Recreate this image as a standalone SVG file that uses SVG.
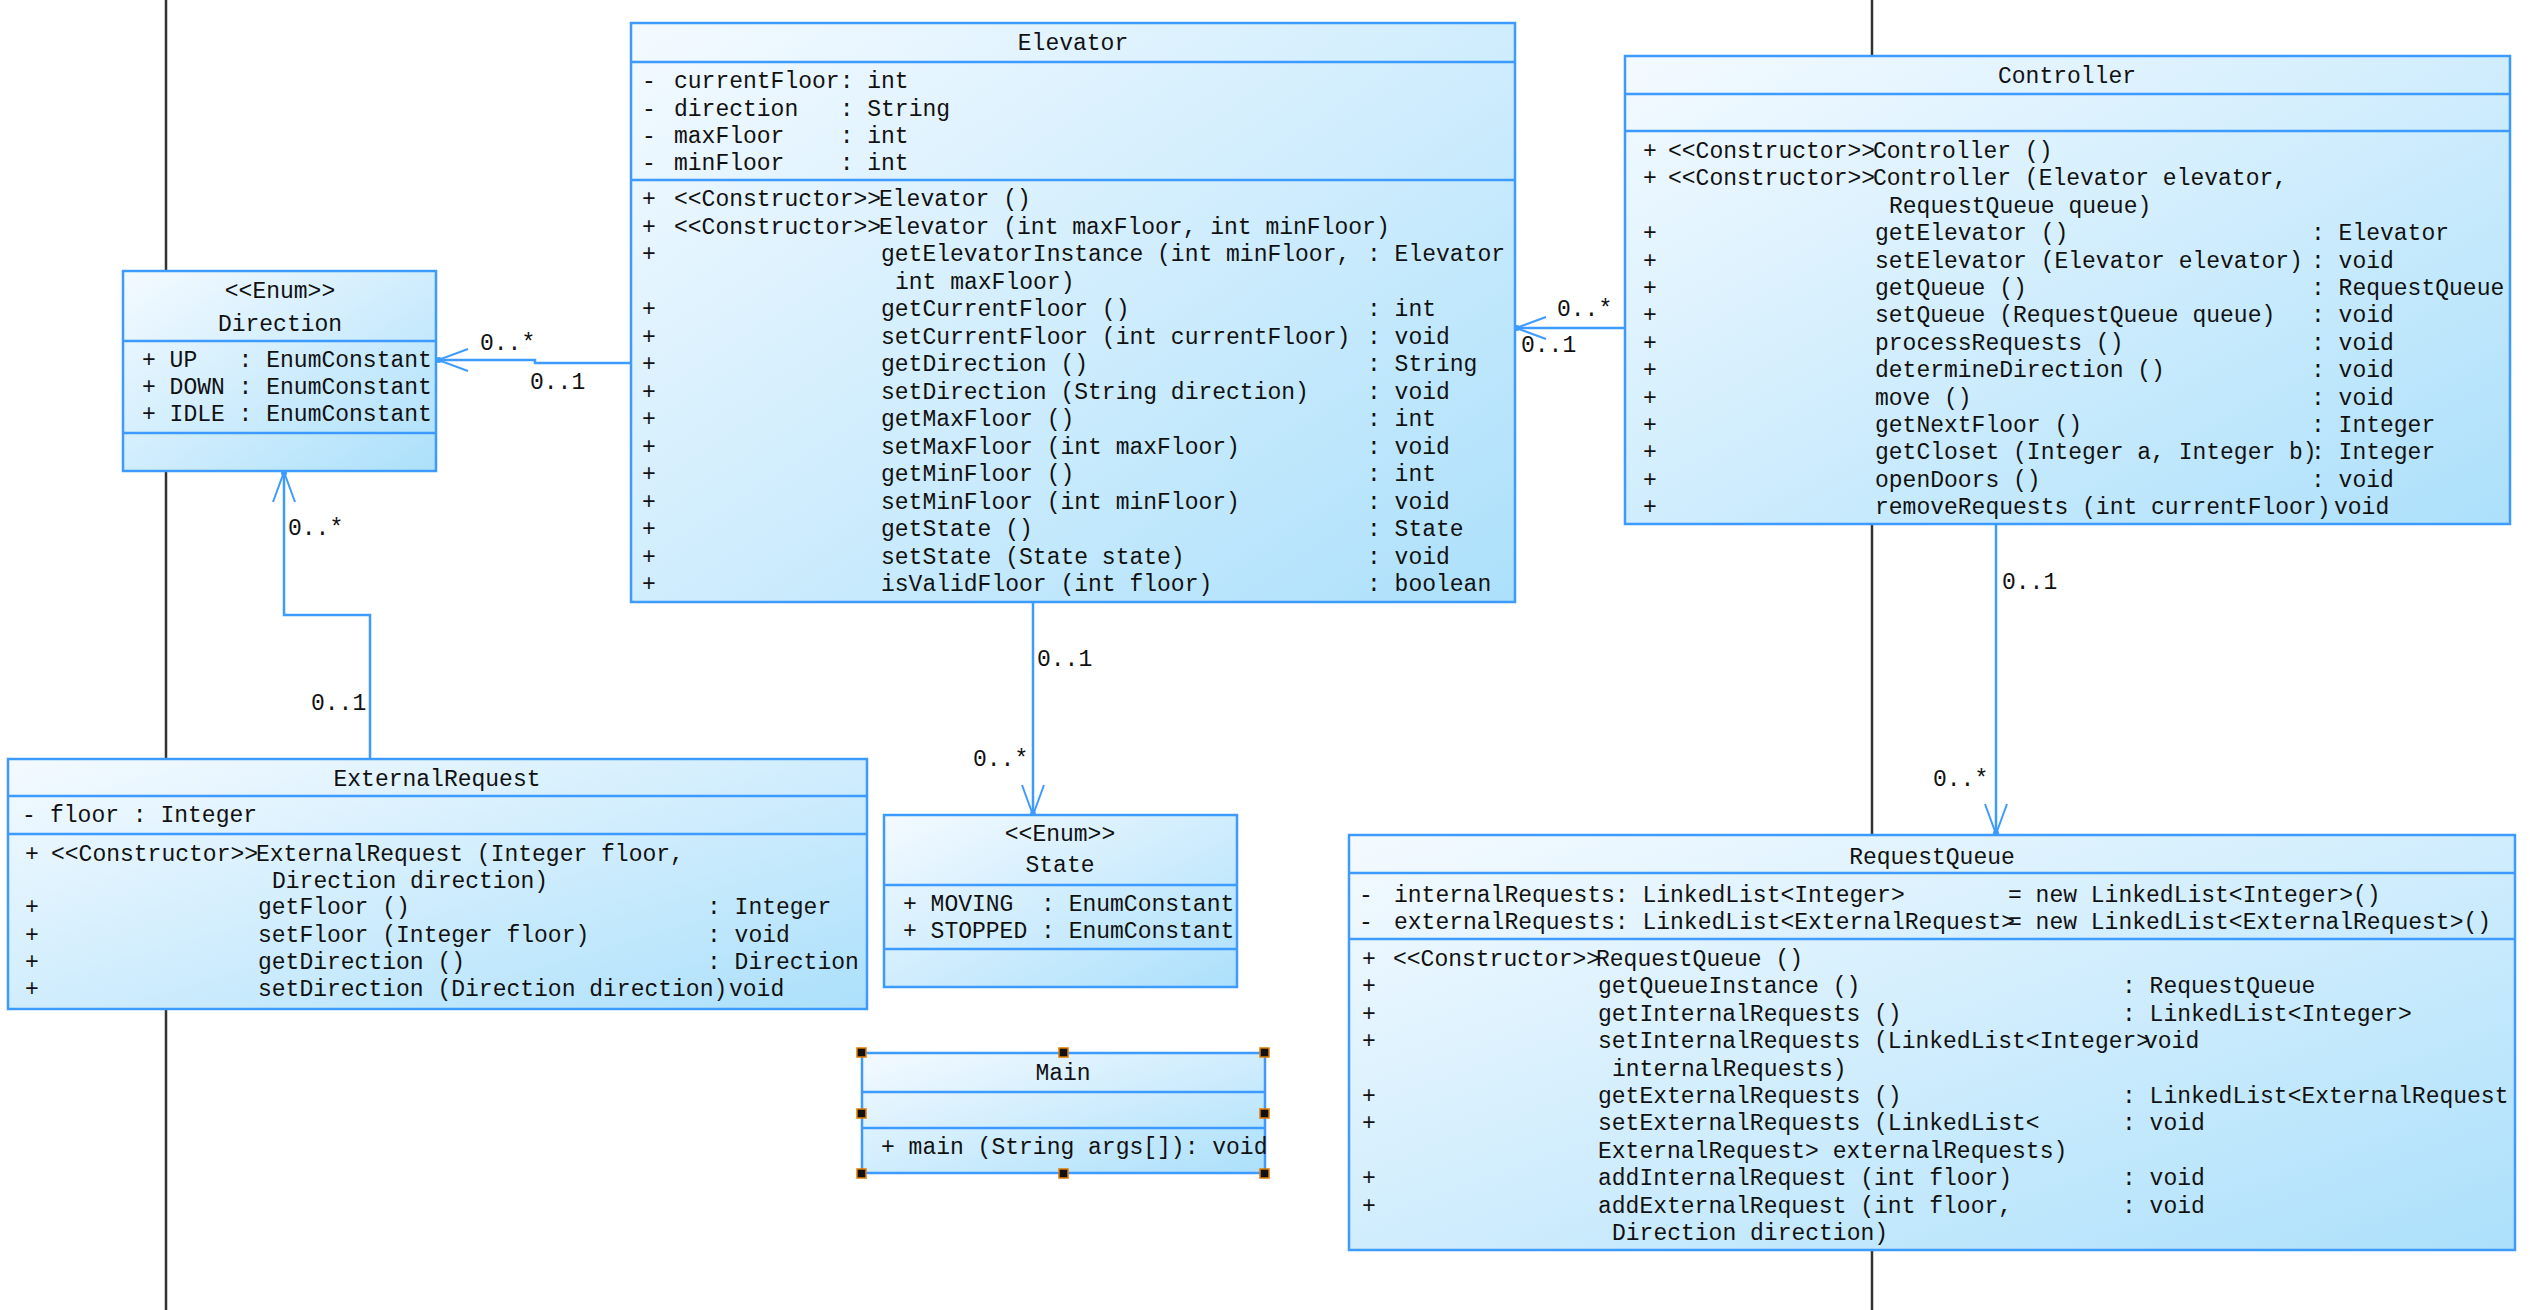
<svg xmlns="http://www.w3.org/2000/svg" width="2530" height="1310" viewBox="0 0 2530 1310" xml:space="preserve">
<defs>
<linearGradient id="g" x1="0" y1="0" x2="1" y2="1">
<stop offset="0" stop-color="#f4faff"/>
<stop offset="1" stop-color="#ace0fb"/>
</linearGradient>
<marker id="arr" markerUnits="userSpaceOnUse" viewBox="0 0 34 26" refX="32" refY="13" markerWidth="34" markerHeight="26" orient="auto">
<path d="M2,2 L32,13 L2,24" fill="none" stroke="#3d9bff" stroke-width="2"/>
<circle cx="31" cy="13" r="3" fill="#3d9bff"/>
</marker>
<style>
.box{fill:url(#g);stroke:#3d9bff;stroke-width:2.5}
.sep{stroke:#3d9bff;stroke-width:2.5}
text{font-family:"Liberation Mono","DejaVu Sans Mono",monospace;font-size:23px;fill:#111;white-space:pre}
.c{text-anchor:middle}
.conn{stroke:#3d9bff;stroke-width:2.5;fill:none}
.life{stroke:#333;stroke-width:2.5}
.h{fill:#111;stroke:#e07b00;stroke-width:1.5}
</style>
</defs>
<rect width="2530" height="1310" fill="#ffffff"/>
<g id="lifelines">
<line class="life" x1="166" y1="0" x2="166" y2="1310"/>
<line class="life" x1="1872" y1="0" x2="1872" y2="1310"/>
</g>
<g id="connectors">
<path class="conn" d="M631,363 H535 V360 H438" marker-end="url(#arr)"/>
<text x="480" y="350">0..*</text>
<text x="530" y="389">0..1</text>
<path class="conn" d="M370,759 V615 H284 V472" marker-end="url(#arr)"/>
<text x="288" y="535">0..*</text>
<text x="311" y="710">0..1</text>
<path class="conn" d="M1033,602 V815" marker-end="url(#arr)"/>
<text x="1037" y="666">0..1</text>
<text x="973" y="766">0..*</text>
<path class="conn" d="M1625,328 H1516" marker-end="url(#arr)"/>
<text x="1557" y="316">0..*</text>
<text x="1521" y="352">0..1</text>
<path class="conn" d="M1996,524 V834" marker-end="url(#arr)"/>
<text x="2002" y="589">0..1</text>
<text x="1933" y="786">0..*</text>
</g>
<g id="Elevator">
<rect class="box" x="631" y="23" width="884" height="579"/>
<line class="sep" x1="631" y1="62" x2="1515" y2="62"/>
<line class="sep" x1="631" y1="180" x2="1515" y2="180"/>
<text class="c" x="1073" y="50">Elevator</text>
<text x="642" y="88">-</text><text x="674" y="88">currentFloor: int</text>
<text x="642" y="115.5">-</text><text x="674" y="115.5">direction   : String</text>
<text x="642" y="143">-</text><text x="674" y="143">maxFloor    : int</text>
<text x="642" y="170">-</text><text x="674" y="170">minFloor    : int</text>
<text x="642" y="206">+</text><text x="674" y="206">&lt;&lt;Constructor&gt;&gt;</text><text x="879" y="206">Elevator ()</text>
<text x="642" y="233.5">+</text><text x="674" y="233.5">&lt;&lt;Constructor&gt;&gt;</text><text x="879" y="233.5">Elevator (int maxFloor, int minFloor)</text>
<text x="642" y="261">+</text><text x="881" y="261">getElevatorInstance (int minFloor,</text><text x="1367" y="261">: Elevator</text>
<text x="895" y="288.5">int maxFloor)</text>
<text x="642" y="316">+</text><text x="881" y="316">getCurrentFloor ()</text><text x="1367" y="316">: int</text>
<text x="642" y="343.5">+</text><text x="881" y="343.5">setCurrentFloor (int currentFloor)</text><text x="1367" y="343.5">: void</text>
<text x="642" y="371">+</text><text x="881" y="371">getDirection ()</text><text x="1367" y="371">: String</text>
<text x="642" y="398.5">+</text><text x="881" y="398.5">setDirection (String direction)</text><text x="1367" y="398.5">: void</text>
<text x="642" y="426">+</text><text x="881" y="426">getMaxFloor ()</text><text x="1367" y="426">: int</text>
<text x="642" y="453.5">+</text><text x="881" y="453.5">setMaxFloor (int maxFloor)</text><text x="1367" y="453.5">: void</text>
<text x="642" y="481">+</text><text x="881" y="481">getMinFloor ()</text><text x="1367" y="481">: int</text>
<text x="642" y="508.5">+</text><text x="881" y="508.5">setMinFloor (int minFloor)</text><text x="1367" y="508.5">: void</text>
<text x="642" y="536">+</text><text x="881" y="536">getState ()</text><text x="1367" y="536">: State</text>
<text x="642" y="563.5">+</text><text x="881" y="563.5">setState (State state)</text><text x="1367" y="563.5">: void</text>
<text x="642" y="591">+</text><text x="881" y="591">isValidFloor (int floor)</text><text x="1367" y="591">: boolean</text>
</g>
<g id="Controller">
<rect class="box" x="1625" y="56" width="885" height="468"/>
<line class="sep" x1="1625" y1="94" x2="2510" y2="94"/>
<line class="sep" x1="1625" y1="131" x2="2510" y2="131"/>
<text class="c" x="2067" y="82.5">Controller</text>
<text x="1643" y="158">+</text><text x="1668" y="158">&lt;&lt;Constructor&gt;&gt;</text><text x="1873" y="158">Controller ()</text>
<text x="1643" y="185.4">+</text><text x="1668" y="185.4">&lt;&lt;Constructor&gt;&gt;</text><text x="1873" y="185.4">Controller (Elevator elevator,</text>
<text x="1889" y="212.8">RequestQueue queue)</text>
<text x="1643" y="240.2">+</text><text x="1875" y="240.2">getElevator ()</text><text x="2311" y="240.2">: Elevator</text>
<text x="1643" y="267.6">+</text><text x="1875" y="267.6">setElevator (Elevator elevator)</text><text x="2311" y="267.6">: void</text>
<text x="1643" y="295">+</text><text x="1875" y="295">getQueue ()</text><text x="2311" y="295">: RequestQueue</text>
<text x="1643" y="322.4">+</text><text x="1875" y="322.4">setQueue (RequestQueue queue)</text><text x="2311" y="322.4">: void</text>
<text x="1643" y="349.8">+</text><text x="1875" y="349.8">processRequests ()</text><text x="2311" y="349.8">: void</text>
<text x="1643" y="377.2">+</text><text x="1875" y="377.2">determineDirection ()</text><text x="2311" y="377.2">: void</text>
<text x="1643" y="404.6">+</text><text x="1875" y="404.6">move ()</text><text x="2311" y="404.6">: void</text>
<text x="1643" y="432">+</text><text x="1875" y="432">getNextFloor ()</text><text x="2311" y="432">: Integer</text>
<text x="1643" y="459.4">+</text><text x="1875" y="459.4">getCloset (Integer a, Integer b)</text><text x="2311" y="459.4">: Integer</text>
<text x="1643" y="486.8">+</text><text x="1875" y="486.8">openDoors ()</text><text x="2311" y="486.8">: void</text>
<text x="1643" y="514.2">+</text><text x="1875" y="514.2">removeRequests (int currentFloor)</text><text x="2334" y="514.2">void</text>
</g>
<g id="Direction">
<rect class="box" x="123" y="271" width="313" height="200"/>
<line class="sep" x1="123" y1="341" x2="436" y2="341"/>
<line class="sep" x1="123" y1="433" x2="436" y2="433"/>
<text class="c" x="280" y="298">&lt;&lt;Enum&gt;&gt;</text>
<text class="c" x="280" y="331">Direction</text>
<text x="142" y="367">+ UP   : EnumConstant</text>
<text x="142" y="394">+ DOWN : EnumConstant</text>
<text x="142" y="421">+ IDLE : EnumConstant</text>
</g>
<g id="ExternalRequest">
<rect class="box" x="8" y="759" width="859" height="250"/>
<line class="sep" x1="8" y1="796" x2="867" y2="796"/>
<line class="sep" x1="8" y1="834" x2="867" y2="834"/>
<text class="c" x="437" y="786">ExternalRequest</text>
<text x="22" y="822">-</text><text x="50" y="822">floor : Integer</text>
<text x="25" y="861">+</text><text x="51" y="861">&lt;&lt;Constructor&gt;&gt;</text><text x="256" y="861">ExternalRequest (Integer floor,</text>
<text x="272" y="887.5">Direction direction)</text>
<text x="25" y="914">+</text><text x="258" y="914">getFloor ()</text><text x="707" y="914">: Integer</text>
<text x="25" y="941.5">+</text><text x="258" y="941.5">setFloor (Integer floor)</text><text x="707" y="941.5">: void</text>
<text x="25" y="969">+</text><text x="258" y="969">getDirection ()</text><text x="707" y="969">: Direction</text>
<text x="25" y="996">+</text><text x="258" y="996">setDirection (Direction direction)</text><text x="729" y="996">void</text>
</g>
<g id="State">
<rect class="box" x="884" y="815" width="353" height="172"/>
<line class="sep" x1="884" y1="885" x2="1237" y2="885"/>
<line class="sep" x1="884" y1="949" x2="1237" y2="949"/>
<text class="c" x="1060" y="841">&lt;&lt;Enum&gt;&gt;</text>
<text class="c" x="1060" y="872">State</text>
<text x="903" y="911">+ MOVING  : EnumConstant</text>
<text x="903" y="938">+ STOPPED : EnumConstant</text>
</g>
<g id="Main">
<rect class="box" x="862" y="1053" width="403" height="120"/>
<line class="sep" x1="862" y1="1092" x2="1265" y2="1092"/>
<line class="sep" x1="862" y1="1128" x2="1265" y2="1128"/>
<text class="c" x="1063" y="1080">Main</text>
<text x="881" y="1154">+ main (String args[]): void</text>
<rect class="h" x="857" y="1048" width="9" height="9"/>
<rect class="h" x="1059" y="1048" width="9" height="9"/>
<rect class="h" x="1260" y="1048" width="9" height="9"/>
<rect class="h" x="857" y="1109" width="9" height="9"/>
<rect class="h" x="1260" y="1109" width="9" height="9"/>
<rect class="h" x="857" y="1169" width="9" height="9"/>
<rect class="h" x="1059" y="1169" width="9" height="9"/>
<rect class="h" x="1260" y="1169" width="9" height="9"/>
</g>
<g id="RequestQueue">
<rect class="box" x="1349" y="835" width="1166" height="415"/>
<line class="sep" x1="1349" y1="873" x2="2515" y2="873"/>
<line class="sep" x1="1349" y1="939" x2="2515" y2="939"/>
<text class="c" x="1932" y="864">RequestQueue</text>
<text x="1359" y="902">-</text><text x="1394" y="902">internalRequests: LinkedList&lt;Integer&gt;</text><text x="2008" y="902">= new LinkedList&lt;Integer&gt;()</text>
<text x="1359" y="929">-</text><text x="1394" y="929">externalRequests: LinkedList&lt;ExternalRequest&gt;</text><text x="2008" y="929">= new LinkedList&lt;ExternalRequest&gt;()</text>
<text x="1362" y="966">+</text><text x="1393" y="966">&lt;&lt;Constructor&gt;&gt;</text><text x="1596" y="966">RequestQueue ()</text>
<text x="1362" y="993.4">+</text><text x="1598" y="993.4">getQueueInstance ()</text><text x="2122" y="993.4">: RequestQueue</text>
<text x="1362" y="1020.8">+</text><text x="1598" y="1020.8">getInternalRequests ()</text><text x="2122" y="1020.8">: LinkedList&lt;Integer&gt;</text>
<text x="1362" y="1048.2">+</text><text x="1598" y="1048.2">setInternalRequests (LinkedList&lt;Integer&gt;</text><text x="2144" y="1048.2">void</text>
<text x="1612" y="1075.6">internalRequests)</text>
<text x="1362" y="1103">+</text><text x="1598" y="1103">getExternalRequests ()</text><text x="2122" y="1103">: LinkedList&lt;ExternalRequest</text>
<text x="1362" y="1130.4">+</text><text x="1598" y="1130.4">setExternalRequests (LinkedList&lt;</text><text x="2122" y="1130.4">: void</text>
<text x="1598" y="1157.8">ExternalRequest&gt; externalRequests)</text>
<text x="1362" y="1185.2">+</text><text x="1598" y="1185.2">addInternalRequest (int floor)</text><text x="2122" y="1185.2">: void</text>
<text x="1362" y="1212.6">+</text><text x="1598" y="1212.6">addExternalRequest (int floor,</text><text x="2122" y="1212.6">: void</text>
<text x="1612" y="1240">Direction direction)</text>
</g>
</svg>
